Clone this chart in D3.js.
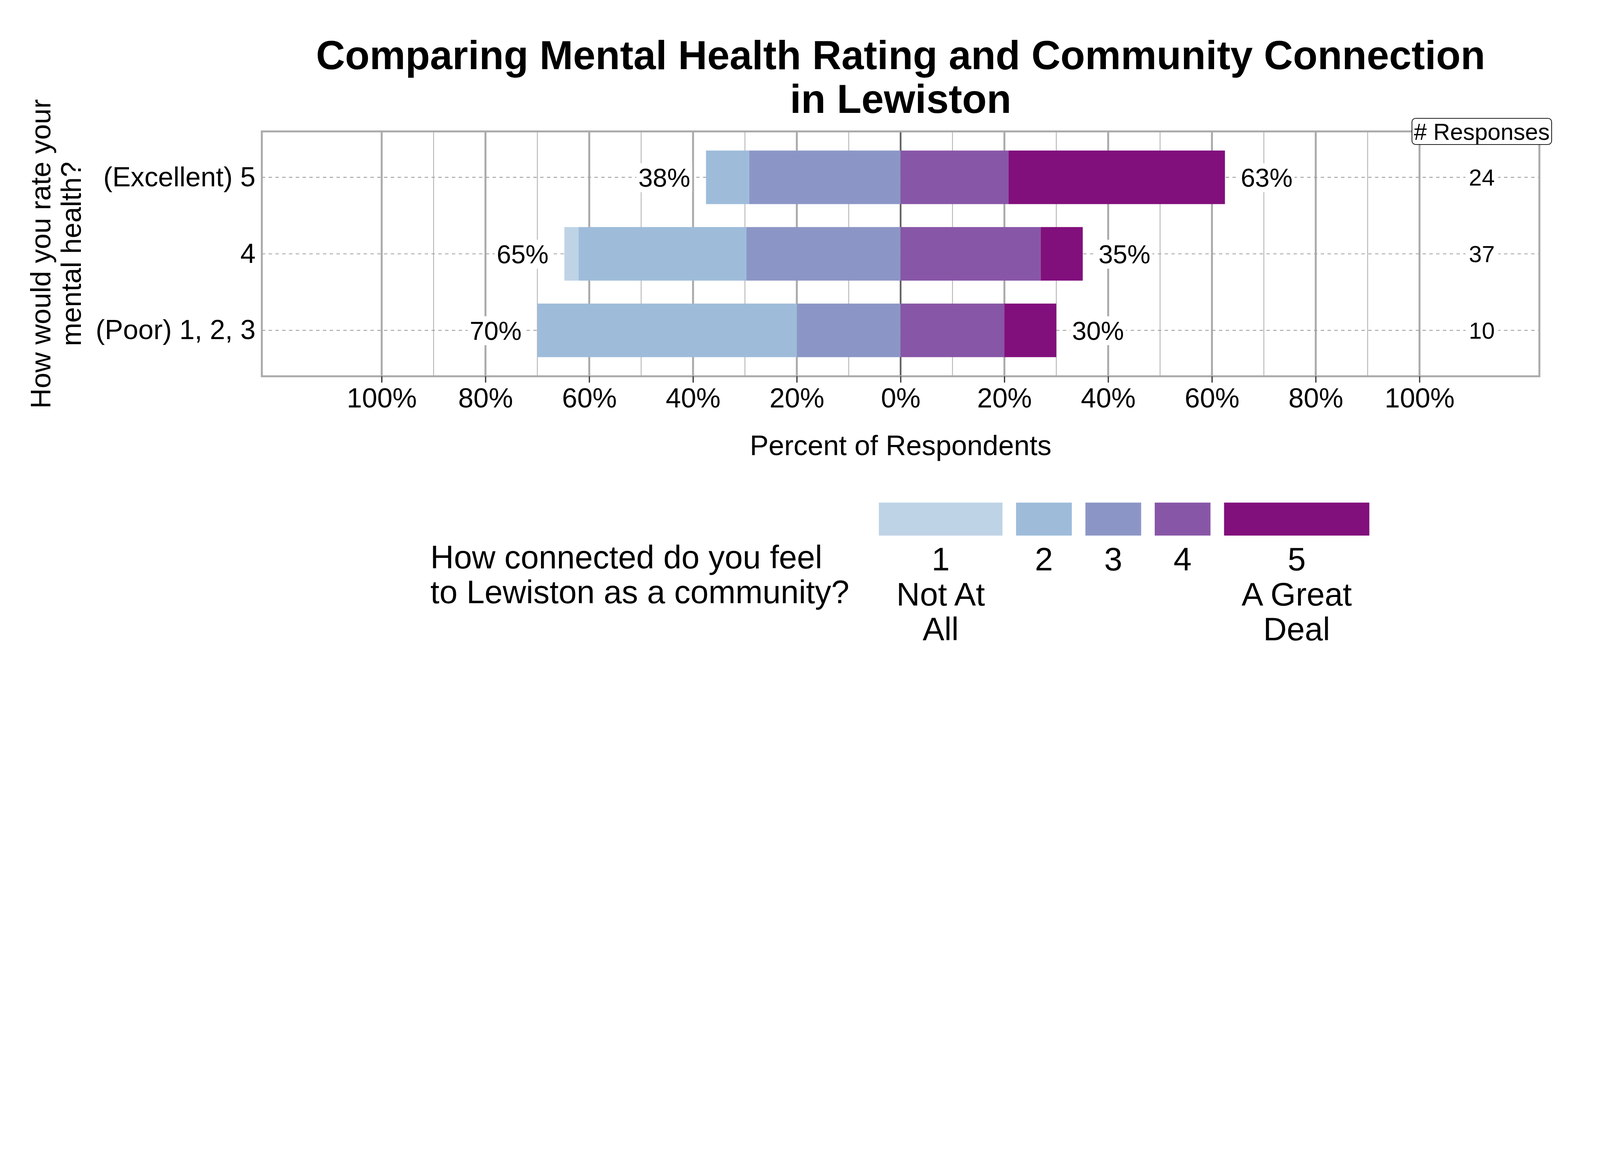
<!DOCTYPE html>
<html>
  <head>
    <meta charset='utf-8'>
    <title>Comparing Mental Health Rating and Community Connection</title>
    <script src='https://d3js.org/d3.v7.min.js'></script>
    <style>
      html, body { margin: 0; padding: 0; width: 100%; height: 100%; overflow: hidden; background: #fff; }
      svg { display: block; font-family: 'Liberation Sans', Arial, sans-serif; }

      .axis text { font-size: 113px; fill: #000; }
      .axis path { display: none; }
      .axis--x line { stroke: #333; stroke-width: 5px; }

      .grid-minor { stroke: #b3b3b3; stroke-width: 3.5px; }
      .grid-major { stroke: #aaaaaa; stroke-width: 8px; }
      .grid-zero { stroke: #5f5f5f; stroke-width: 7px; }
      .row-line { stroke: #a0a0a0; stroke-width: 3.5px; stroke-dasharray: 14, 14; }
      .panel-border { fill: none; stroke: #aaaaaa; stroke-width: 8px; }

      .pct-label { font-size: 107px; }
      .n-label { font-size: 96px; }
      .axis-title { font-size: 116px; }
      .title { font-size: 166px; font-weight: bold; }
      .legend text { font-size: 134px; }
    </style>
  </head>
  <body>
  <script>
    // rows, top to bottom
    var rows = ['(Excellent) 5', '4', '(Poor) 1, 2, 3'];

    // percent of respondents in each connection level (1 = Not At All ... 5 = A Great Deal)
    var level1 = [0, 2.7, 0];
    var level2 = [8.3, 32.4, 50];
    var level3 = [29.2, 29.7, 20];
    var level4 = [20.8, 27.0, 20];
    var level5 = [41.7, 8.1, 10];

    var negLabels = ['38%', '65%', '70%'];
    var posLabels = ['63%', '35%', '30%'];
    var responses = [24, 37, 10];

    var xTicks = [-100, -80, -60, -40, -20, 0, 20, 40, 60, 80, 100];
    var levelColors = ['#bfd3e6', '#9ebcda', '#8c96c6', '#8856a7', '#810f7c'];
    var legendLabels = [['1', 'Not At', 'All'], ['2'], ['3'], ['4'], ['5', 'A Great', 'Deal']];
    var legendTitle = ['How connected do you feel', 'to Lewiston as a community?'];
    var titleLines = ['Comparing Mental Health Rating and Community Connection', 'in Lewiston'];
    var yTitleLines = ['How would you rate your', 'mental health?'];

    var width = 6600;
    var height = 3000;
    var panel = {left: 1080, right: 6350, top: 542, bottom: 1552};

    // drawn in a 6600x3000 coordinate space, scaled to whatever the window is
    var svg = d3.select('body')
              .append('svg')
              .attr('viewBox', '0 0 ' + width + ' ' + height)
              .attr('preserveAspectRatio', 'xMidYMin meet')
              .attr('width', '100%')
              .attr('height', '100%')
              .style('background', 'white');

    var x = d3.scaleLinear()
            .domain([-123.1, 123.1])
            .range([panel.left, panel.right]);

    var y = d3.scalePoint()
            .domain(rows)
            .range([panel.top, panel.bottom])
            .padding(0.6);

    var barH = y.step() * 0.7;
    var xMid = (panel.left + panel.right) / 2;

    // gridlines
    var grid = svg.append('g');
    grid.selectAll('.grid-minor')
      .data(d3.range(-90, 100, 20))
      .enter().append('line')
      .attr('class', 'grid-minor')
      .attr('x1', function(d) { return x(d); })
      .attr('x2', function(d) { return x(d); })
      .attr('y1', panel.top).attr('y2', panel.bottom);

    grid.selectAll('.grid-major')
      .data(xTicks)
      .enter().append('line')
      .attr('class', function(d) { return d === 0 ? 'grid-zero' : 'grid-major'; })
      .attr('x1', function(d) { return x(d); })
      .attr('x2', function(d) { return x(d); })
      .attr('y1', panel.top).attr('y2', panel.bottom);

    grid.selectAll('.row-line')
      .data(rows)
      .enter().append('line')
      .attr('class', 'row-line')
      .attr('x1', panel.left).attr('x2', panel.right)
      .attr('y1', function(d) { return y(d); })
      .attr('y2', function(d) { return y(d); });

    // stacked bars: levels 1-3 to the left of zero, 4-5 to the right
    var levels = [level1, level2, level3, level4, level5];
    var segs = [];
    rows.forEach(function(r, i) {
      var left = 0;
      for (var k = 2; k >= 0; k--) {
        segs.push({row: r, level: k, x0: left - levels[k][i], x1: left});
        left -= levels[k][i];
      }
      var right = 0;
      for (var k = 3; k < 5; k++) {
        segs.push({row: r, level: k, x0: right, x1: right + levels[k][i]});
        right += levels[k][i];
      }
    });

    svg.append('g').selectAll('rect')
      .data(segs.filter(function(d) { return d.x1 > d.x0; }))
      .enter().append('rect')
      .attr('x', function(d) { return x(d.x0); })
      .attr('width', function(d) { return x(d.x1) - x(d.x0); })
      .attr('y', function(d) { return y(d.row) - barH / 2; })
      .attr('height', barH)
      .style('fill', function(d) { return levelColors[d.level]; });

    // text with a white box behind it
    function boxedText(g, tx, ty, str, cls, anchor, padX, padY) {
      var t = g.append('text')
        .attr('class', cls)
        .attr('x', tx).attr('y', ty)
        .attr('dy', '.36em')
        .style('text-anchor', anchor)
        .text(str);
      var bb = t.node().getBBox();
      g.insert('rect', 'text')
        .attr('x', bb.x - padX).attr('y', bb.y - padY)
        .attr('width', bb.width + padX * 2).attr('height', bb.height + padY * 2)
        .style('fill', 'white');
      return t;
    }

    var labels = svg.append('g');
    rows.forEach(function(r, i) {
      var neg = level1[i] + level2[i] + level3[i];
      var pos = level4[i] + level5[i];
      boxedText(labels.append('g'), x(-neg) - 65, y(r), negLabels[i], 'pct-label', 'end', 8, 0);
      boxedText(labels.append('g'), x(pos) + 65, y(r), posLabels[i], 'pct-label', 'start', 8, 0);
      boxedText(labels.append('g'), x(112), y(r), responses[i], 'n-label', 'middle', 14, 0);
    });

    svg.append('rect')
      .attr('class', 'panel-border')
      .attr('x', panel.left).attr('y', panel.top)
      .attr('width', panel.right - panel.left)
      .attr('height', panel.bottom - panel.top);

    // "# Responses" header sitting on the panel border
    var hdr = svg.append('g');
    var hdrText = hdr.append('text')
      .attr('class', 'n-label')
      .attr('x', x(112)).attr('y', panel.top)
      .attr('dy', '.36em')
      .style('text-anchor', 'middle')
      .text('# Responses');
    var hb = hdrText.node().getBBox();
    hdr.insert('rect', 'text')
      .attr('x', hb.x - 8).attr('y', panel.top - 54)
      .attr('width', hb.width + 16).attr('height', 108)
      .attr('rx', 15).attr('ry', 15)
      .style('fill', 'white')
      .style('stroke', '#000')
      .style('stroke-width', 3);

    // axes
    svg.append('g')
      .attr('class', 'axis axis--x')
      .attr('transform', 'translate(0,' + panel.bottom + ')')
      .call(d3.axisBottom(x)
        .tickValues(xTicks)
        .tickSize(26)
        .tickPadding(22)
        .tickFormat(function(d) { return Math.abs(d) + '%'; }));

    svg.append('g')
      .attr('class', 'axis axis--y')
      .attr('transform', 'translate(' + panel.left + ',0)')
      .call(d3.axisLeft(y).tickSize(0).tickPadding(26));

    svg.append('text')
      .attr('class', 'axis-title')
      .attr('x', xMid).attr('y', 1878)
      .style('text-anchor', 'middle')
      .text('Percent of Respondents');

    yTitleLines.forEach(function(line, i) {
      svg.append('text')
        .attr('class', 'axis-title')
        .attr('transform', 'translate(' + (208 + i * 126) + ',' + ((panel.top + panel.bottom) / 2) + ') rotate(-90)')
        .style('text-anchor', 'middle')
        .text(line);
    });

    titleLines.forEach(function(line, i) {
      svg.append('text')
        .attr('class', 'title')
        .attr('x', xMid).attr('y', 286 + i * 179)
        .style('text-anchor', 'middle')
        .text(line);
    });

    // legend: title on the left, keys with labels underneath
    var legend = svg.append('g').attr('class', 'legend');
    var lTitle = legend.append('text');
    legendTitle.forEach(function(line, i) {
      lTitle.append('tspan').attr('x', 0).attr('y', 2344 + i * 144).text(line);
    });
    var titleW = lTitle.node().getBBox().width;

    var keyX = titleW + 122;
    legendLabels.forEach(function(lines, k) {
      var g = legend.append('g');
      var t = g.append('text').style('text-anchor', 'middle');
      lines.forEach(function(line, j) {
        t.append('tspan').attr('x', 0).attr('y', 2353 + j * 144).text(line);
      });
      var kw = Math.max(t.node().getBBox().width + 145, 230);
      g.insert('rect', 'text')
        .attr('x', -kw / 2).attr('y', 2073)
        .attr('width', kw).attr('height', 136)
        .style('fill', levelColors[k]);
      g.attr('transform', 'translate(' + (keyX + kw / 2) + ',0)');
      keyX += kw + 56;
    });
    var legendW = keyX - 56;
    legend.attr('transform', 'translate(' + (xMid - 3 - legendW / 2) + ',0)');
  </script>
  </body>
</html>
